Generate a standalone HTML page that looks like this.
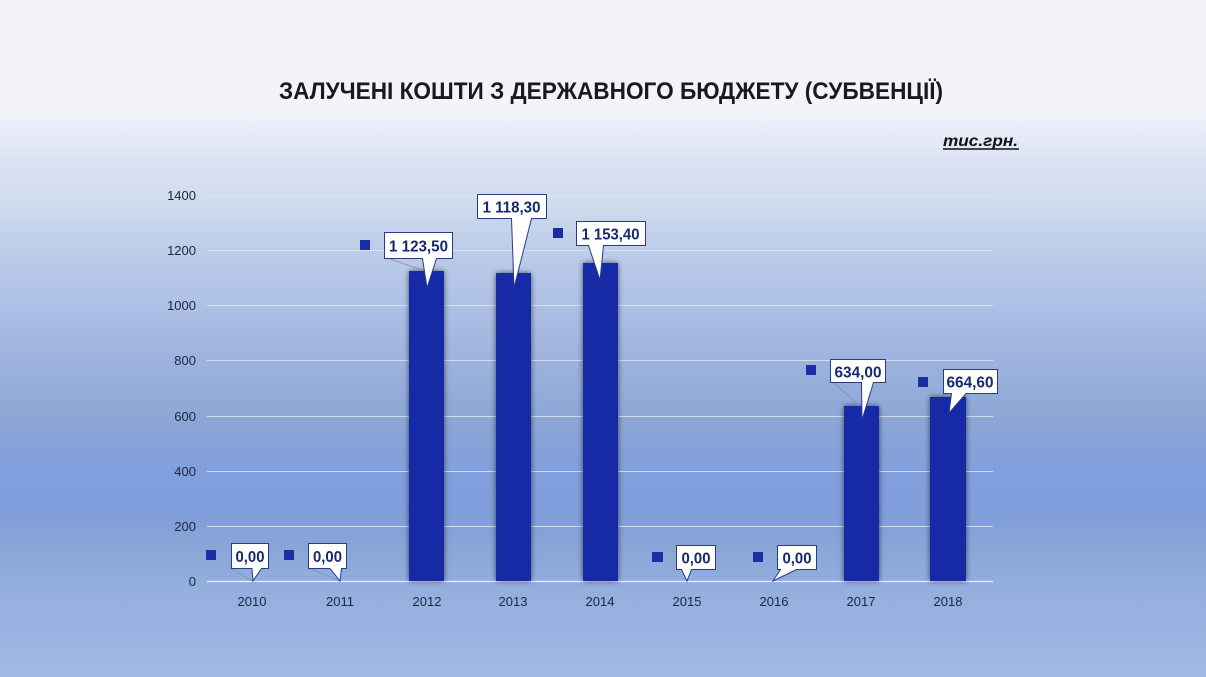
<!DOCTYPE html>
<html>
<head>
<meta charset="utf-8">
<style>
  html,body{margin:0;padding:0;}
  body{width:1206px;height:677px;overflow:hidden;}
  svg{display:block;}
  .ax{font-family:"Liberation Sans",sans-serif;font-size:13px;fill:#1e2640;}
  .lb{font-family:"Liberation Sans",sans-serif;font-size:16px;font-weight:bold;fill:#16296f;}
</style>
</head>
<body>
<svg width="1206" height="677" viewBox="0 0 1206 677" xmlns="http://www.w3.org/2000/svg">
  <defs>
    <linearGradient id="bg" x1="0" y1="0" x2="0" y2="1">
      <stop offset="0" stop-color="#f3f4f9"/>
      <stop offset="0.17" stop-color="#f2f4fa"/>
      <stop offset="0.18" stop-color="#eceffa"/>
      <stop offset="0.24" stop-color="#dae2f2"/>
      <stop offset="0.30" stop-color="#cfdcec"/>
      <stop offset="0.37" stop-color="#bccce9"/>
      <stop offset="0.44" stop-color="#b0c2e6"/>
      <stop offset="0.50" stop-color="#a3b7e0"/>
      <stop offset="0.58" stop-color="#93acd9"/>
      <stop offset="0.63" stop-color="#8aa5d5"/>
      <stop offset="0.70" stop-color="#809fdc"/>
      <stop offset="0.76" stop-color="#7f9edb"/>
      <stop offset="0.80" stop-color="#88a4d6"/>
      <stop offset="0.86" stop-color="#92aedd"/>
      <stop offset="0.93" stop-color="#9bb3e2"/>
      <stop offset="1" stop-color="#a2b9e6"/>
    </linearGradient>
    <filter id="sh" x="-40%" y="-10%" width="180%" height="120%">
      <feGaussianBlur in="SourceAlpha" stdDeviation="3"/>
      <feOffset dx="0" dy="0" result="b"/>
      <feComponentTransfer><feFuncA type="linear" slope="0.6"/></feComponentTransfer>
      <feMerge><feMergeNode/><feMergeNode in="SourceGraphic"/></feMerge>
    </filter>
  </defs>

  <rect x="0" y="0" width="1206" height="677" fill="url(#bg)"/>

  <!-- Title -->
  <text x="611" y="99" text-anchor="middle" font-family="Liberation Sans, sans-serif" font-weight="bold" font-size="24" fill="#1a1a1a" textLength="664" lengthAdjust="spacingAndGlyphs">ЗАЛУЧЕНІ КОШТИ З ДЕРЖАВНОГО БЮДЖЕТУ (СУБВЕНЦІЇ)</text>
  <text x="943" y="146" font-family="Liberation Sans, sans-serif" font-weight="bold" font-style="italic" font-size="16" fill="#111" textLength="75" lengthAdjust="spacingAndGlyphs">тис.грн.</text>
  <line x1="943" y1="149" x2="1019" y2="149" stroke="#111" stroke-width="1.5"/>

  <!-- Gridlines -->
  <g stroke="#dfe5f3" stroke-width="1" opacity="0.85">
    <line x1="207" y1="195.5" x2="993" y2="195.5"/>
    <line x1="207" y1="250.5" x2="993" y2="250.5"/>
    <line x1="207" y1="305.5" x2="993" y2="305.5"/>
    <line x1="207" y1="360.5" x2="993" y2="360.5"/>
    <line x1="207" y1="416.5" x2="993" y2="416.5"/>
    <line x1="207" y1="471.5" x2="993" y2="471.5"/>
    <line x1="207" y1="526.5" x2="993" y2="526.5"/>
  </g>
  <line x1="207" y1="581.5" x2="993" y2="581.5" stroke="#e8edf8" stroke-width="1.2"/>

  <!-- Y labels -->
  <g class="ax" text-anchor="end">
    <text x="196" y="200">1400</text>
    <text x="196" y="255">1200</text>
    <text x="196" y="310">1000</text>
    <text x="196" y="365">800</text>
    <text x="196" y="421">600</text>
    <text x="196" y="476">400</text>
    <text x="196" y="531">200</text>
    <text x="196" y="586">0</text>
  </g>

  <!-- X labels -->
  <g class="ax" text-anchor="middle">
    <text x="252" y="606">2010</text>
    <text x="340" y="606">2011</text>
    <text x="427" y="606">2012</text>
    <text x="513" y="606">2013</text>
    <text x="600" y="606">2014</text>
    <text x="687" y="606">2015</text>
    <text x="774" y="606">2016</text>
    <text x="861" y="606">2017</text>
    <text x="948" y="606">2018</text>
  </g>

  <!-- Bars -->
  <g fill="#1429a5" filter="url(#sh)">
    <rect x="409" y="271" width="35" height="310"/>
    <rect x="496" y="273" width="35" height="308"/>
    <rect x="583" y="263" width="35" height="318"/>
    <rect x="844" y="406" width="35" height="175"/>
    <rect x="930" y="397" width="36" height="184"/>
  </g>

  <!-- Leader lines -->
  <g stroke="#8a8fa0" stroke-width="1" fill="none" opacity="0.8">
    <line x1="228" y1="567" x2="252" y2="581"/>
    <line x1="306" y1="567" x2="340" y2="581"/>
    <line x1="390" y1="259" x2="425" y2="271"/>
    <line x1="513" y1="218" x2="513" y2="273"/>
    <line x1="833" y1="382" x2="860" y2="406"/>
  </g>

  <!-- Legend keys -->
  <g fill="#1a2fa6">
    <rect x="206" y="550" width="10" height="10"/>
    <rect x="284" y="550" width="10" height="10"/>
    <rect x="360" y="240" width="10" height="10"/>
    <rect x="553" y="228" width="10" height="10"/>
    <rect x="652" y="552" width="11" height="10"/>
    <rect x="753" y="552" width="10" height="10"/>
    <rect x="806" y="365" width="10" height="10"/>
    <rect x="918" y="377" width="10" height="10"/>
  </g>

  <!-- Callouts -->
  <g fill="#ffffff" stroke="#2a3a88" stroke-width="1">
    <path d="M231.5,543.5 H268.5 V568.5 H261.5 L253,581 L252,568.5 H231.5 Z"/>
    <path d="M308.5,543.5 H346.5 V568.5 H341.5 L340,581 L330,568.5 H308.5 Z"/>
    <path d="M384.5,232.5 H452.5 V258.5 H436.5 L427,288 L422.5,258.5 H384.5 Z"/>
    <path d="M477.5,194.5 H546.5 V218.5 H531.5 L514,288 L511.5,218.5 H477.5 Z"/>
    <path d="M576.5,221.5 H645.5 V245.5 H603.5 L600,280 L588.5,245.5 H576.5 Z"/>
    <path d="M676.5,545.5 H715.5 V569.5 H691.5 L687,581 L681.5,569.5 H676.5 Z"/>
    <path d="M777.5,545.5 H816.5 V569.5 H796.5 L773,581 L780.5,569.5 H777.5 Z"/>
    <path d="M830.5,359.5 H885.5 V382.5 H873.5 L862,420 L861.5,382.5 H830.5 Z"/>
    <path d="M943.5,369.5 H997.5 V393.5 H966 L949,413 L951.5,393.5 H943.5 Z"/>
  </g>

  <g class="lb">
    <text x="235.5" y="562" textLength="29" lengthAdjust="spacingAndGlyphs">0,00</text>
    <text x="313" y="562" textLength="29" lengthAdjust="spacingAndGlyphs">0,00</text>
    <text x="389" y="251.5" textLength="59" lengthAdjust="spacingAndGlyphs">1 123,50</text>
    <text x="482.5" y="212.5" textLength="58" lengthAdjust="spacingAndGlyphs">1 118,30</text>
    <text x="581.5" y="239.5" textLength="58" lengthAdjust="spacingAndGlyphs">1 153,40</text>
    <text x="681.5" y="563.5" textLength="29" lengthAdjust="spacingAndGlyphs">0,00</text>
    <text x="782.5" y="563.5" textLength="29" lengthAdjust="spacingAndGlyphs">0,00</text>
    <text x="834.5" y="377.5" textLength="47" lengthAdjust="spacingAndGlyphs">634,00</text>
    <text x="946.5" y="387.5" textLength="47" lengthAdjust="spacingAndGlyphs">664,60</text>
  </g>
</svg>
</body>
</html>
